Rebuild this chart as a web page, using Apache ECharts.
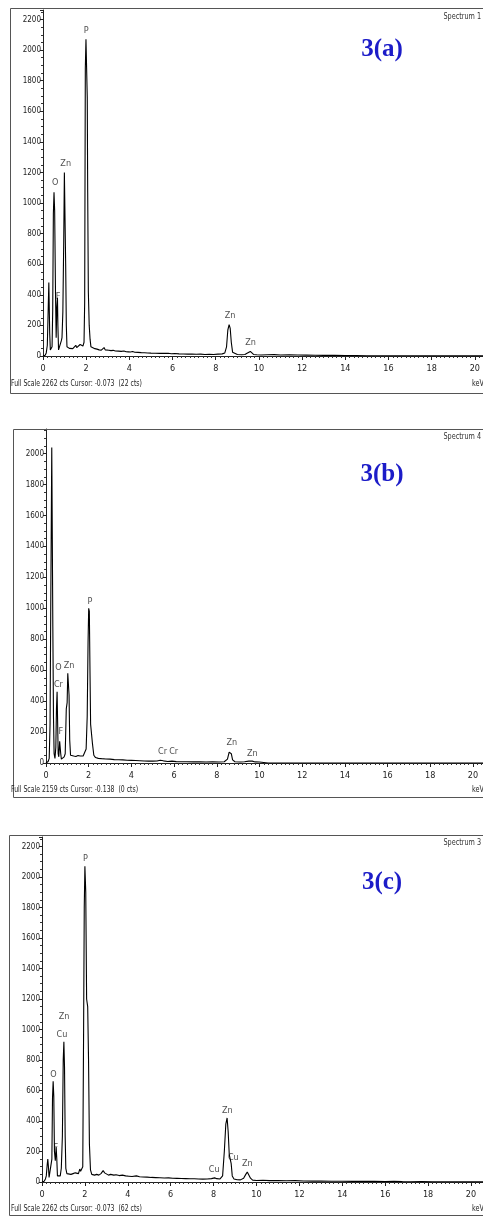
<!DOCTYPE html>
<html>
<head>
<meta charset="utf-8">
<script src="https://cdn.jsdelivr.net/npm/echarts@6/dist/echarts.min.js"></script>
<style>
html, body { margin: 0; padding: 0; background: #fff; }
#chart { width: 483px; height: 1216px; }
</style>
</head>
<body>
<div id="chart"></div>
<script>
// spectrum 1 -> 3(a), [keV, counts]
let specA = [
	[0, 0], [0.1, 5], [0.15, 20], [0.2, 70], [0.24, 300], [0.27, 480], [0.29, 470], [0.31, 150], [0.34, 40],
	[0.38, 30], [0.42, 60], [0.45, 300], [0.48, 930], [0.51, 1070], [0.54, 950], [0.56, 960], [0.58, 400],
	[0.61, 120], [0.64, 320], [0.67, 380], [0.69, 200], [0.72, 40], [0.76, 30], [0.8, 40], [0.85, 100],
	[0.88, 120], [0.92, 290], [0.96, 750], [0.99, 1200], [1.02, 1190], [1.05, 600], [1.08, 200], [1.11, 60],
	[1.15, 55], [1.22, 50], [1.3, 55], [1.38, 48], [1.45, 52], [1.52, 70], [1.56, 55], [1.6, 65], [1.65, 60],
	[1.72, 75], [1.78, 62], [1.85, 65], [1.9, 90], [1.93, 350], [1.96, 1880], [1.99, 2070], [2.02, 2060],
	[2.05, 1690], [2.07, 1070], [2.1, 420], [2.14, 200], [2.18, 110], [2.22, 60], [2.3, 50], [2.4, 48],
	[2.5, 45], [2.6, 40], [2.7, 38], [2.78, 45], [2.83, 55], [2.88, 40], [2.95, 42], [3.05, 38], [3.15, 35],
	[3.25, 37], [3.35, 33], [3.5, 32], [3.62, 30], [3.75, 33], [3.85, 28], [3.95, 27], [4.05, 26], [4.15, 29],
	[4.25, 25], [4.4, 24], [4.55, 22], [4.7, 21], [4.85, 20], [5, 19], [5.2, 18], [5.4, 17], [5.6, 17],
	[5.8, 18], [5.95, 15], [6.1, 16], [6.3, 14], [6.5, 13], [6.7, 12], [6.9, 12], [7.1, 11], [7.3, 12],
	[7.5, 10], [7.7, 11], [7.9, 10], [8.1, 12], [8.3, 14], [8.42, 20], [8.5, 60], [8.56, 170], [8.62, 205],
	[8.67, 180], [8.72, 90], [8.78, 25], [8.85, 12], [9, 10], [9.2, 8], [9.35, 10], [9.45, 18], [9.53, 30],
	[9.6, 30], [9.67, 18], [9.75, 10], [9.9, 8], [10.1, 7], [10.4, 8], [10.7, 9], [11, 7], [11.4, 8],
	[11.8, 7], [12.2, 6], [12.6, 5], [13, 4], [13.5, 4], [14, 3], [14.5, 3], [15, 2], [16, 2], [17, 2],
	[18, 1], [19, 1], [20, 1], [20.4, 1]
];

// spectrum 4 -> 3(b)
let specB = [
	[0, 0], [0.1, 10], [0.15, 30], [0.19, 250], [0.22, 950], [0.25, 950], [0.27, 2040], [0.3, 2030],
	[0.32, 880], [0.35, 300], [0.38, 60], [0.42, 30], [0.46, 100], [0.49, 350], [0.52, 460], [0.54, 300],
	[0.57, 60], [0.6, 40], [0.64, 140], [0.67, 150], [0.69, 60], [0.72, 25], [0.78, 30], [0.85, 40],
	[0.9, 60], [0.95, 350], [0.99, 390], [1.02, 580], [1.05, 590], [1.08, 440], [1.11, 150], [1.15, 50],
	[1.22, 40], [1.3, 45], [1.4, 42], [1.5, 48], [1.6, 45], [1.68, 55], [1.74, 45], [1.82, 55], [1.88, 90],
	[1.93, 300], [1.97, 780], [2, 1000], [2.03, 980], [2.06, 600], [2.09, 250], [2.13, 240], [2.18, 120],
	[2.24, 50], [2.32, 35], [2.45, 30], [2.6, 28], [2.8, 26], [3, 25], [3.2, 22], [3.4, 21], [3.6, 20],
	[3.8, 18], [4, 17], [4.2, 16], [4.4, 15], [4.6, 13], [4.8, 12], [5, 12], [5.2, 13], [5.35, 18],
	[5.42, 20], [5.5, 14], [5.7, 10], [5.9, 12], [5.97, 12], [6.1, 9], [6.3, 8], [6.6, 8], [6.9, 7],
	[7.2, 7], [7.5, 6], [7.8, 7], [8.1, 6], [8.35, 8], [8.5, 25], [8.58, 70], [8.63, 75], [8.68, 60],
	[8.74, 20], [8.85, 8], [9.1, 6], [9.3, 8], [9.5, 12], [9.58, 15], [9.66, 12], [9.8, 7], [10, 6],
	[10.2, 3], [10.4, 0], [20.47, 0]
];

// spectrum 3 -> 3(c)
let specC = [
	[0, 0], [0.1, 5], [0.16, 20], [0.2, 40], [0.24, 110], [0.27, 150], [0.3, 100], [0.33, 30], [0.38, 20],
	[0.42, 40], [0.46, 150], [0.49, 550], [0.52, 660], [0.55, 560], [0.58, 200], [0.62, 140], [0.66, 230],
	[0.69, 150], [0.72, 40], [0.78, 30], [0.85, 40], [0.9, 90], [0.95, 300], [0.99, 800], [1.02, 920],
	[1.05, 750], [1.08, 300], [1.11, 90], [1.16, 55], [1.25, 45], [1.35, 50], [1.45, 55], [1.55, 60],
	[1.62, 70], [1.7, 55], [1.76, 85], [1.8, 70], [1.85, 60], [1.9, 100], [1.94, 1000], [1.97, 1800],
	[2, 2070], [2.04, 1900], [2.08, 1200], [2.13, 1150], [2.17, 800], [2.21, 250], [2.26, 80], [2.32, 50],
	[2.4, 60], [2.45, 45], [2.55, 50], [2.65, 45], [2.75, 55], [2.85, 75], [2.92, 60], [3, 50], [3.1, 45],
	[3.2, 50], [3.28, 60], [3.35, 45], [3.45, 48], [3.6, 42], [3.75, 45], [3.9, 40], [4.05, 38], [4.2, 36],
	[4.4, 40], [4.55, 34], [4.7, 33], [4.9, 32], [5.1, 30], [5.3, 29], [5.5, 28], [5.7, 26], [5.9, 27],
	[6.1, 25], [6.3, 24], [6.5, 23], [6.7, 22], [6.9, 21], [7.1, 21], [7.3, 20], [7.5, 19], [7.7, 20],
	[7.9, 22], [8.05, 27], [8.15, 22], [8.3, 20], [8.42, 40], [8.5, 200], [8.57, 380], [8.63, 420],
	[8.68, 330], [8.73, 180], [8.78, 170], [8.82, 120], [8.87, 40], [8.95, 20], [9.1, 15], [9.25, 14],
	[9.4, 25], [9.5, 50], [9.57, 65], [9.64, 55], [9.72, 25], [9.82, 12], [10, 10], [10.3, 11], [10.6, 9],
	[11, 10], [11.4, 8], [11.8, 9], [12.2, 7], [12.6, 6], [13, 6], [13.5, 5], [14, 5], [14.5, 4], [15, 4],
	[15.5, 4], [16, 3], [16.4, 5], [16.8, 3], [17.2, 2], [17.7, 3], [18.2, 2], [19, 2], [20, 1], [20.56, 1]
];

// peak labels: [keV, counts, element]
let peaksA = [[2.0, 2130, "P"], [0.56, 1130, "O"], [1.05, 1255, "Zn"], [0.7, 385, "F"], [8.66, 261, "Zn"], [9.61, 90, "Zn"]];
let peaksB = [[2.06, 1042, "P"], [0.58, 617, "O"], [1.08, 628, "Zn"], [0.58, 505, "Cr"], [0.7, 203, "F"],
	[5.46, 73, "Cr"], [5.98, 73, "Cr"], [8.7, 131, "Zn"], [9.66, 58, "Zn"]];
let peaksC = [[2.02, 2120, "P"], [1.03, 1083, "Zn"], [0.93, 969, "Cu"], [0.53, 705, "O"], [0.65, 227, "F"],
	[8.64, 465, "Zn"], [8.92, 160, "Cu"], [9.57, 118, "Zn"], [8.03, 79, "Cu"]];

let panelNames = ["3(a)", "3(b)", "3(c)"];
let spectrumNames = ["Spectrum 1", "Spectrum 4", "Spectrum 3"];
let footers = [
	"Full Scale 2262 cts Cursor: -0.073  (22 cts)",
	"Full Scale 2159 cts Cursor: -0.138  (0 cts)",
	"Full Scale 2262 cts Cursor: -0.073  (62 cts)"
];
let fullScale = [2262, 2159, 2262];
let xMax = [20.37, 20.47, 20.56];

let narrow = "'Liberation Sans Narrow', 'DejaVu Sans Condensed', sans-serif";

let grids = [
	{left: 43, top: 10, right: 0, height: 346},
	{left: 46, top: 429, right: 0, height: 334},
	{left: 42, top: 837, right: 0, height: 345}
];
let frames = [
	{x: 10, y: 8, w: 490, h: 385},
	{x: 13, y: 429, w: 490, h: 368},
	{x: 9, y: 835, w: 490, h: 380}
];
let textY = [
	{name: 17, footer: 384, title: 50},
	{name: 437, footer: 790, title: 475},
	{name: 843, footer: 1209, title: 883}
];

let specs = [specA, specB, specC];
let peaks = [peaksA, peaksB, peaksC];

let chart = echarts.init(document.getElementById("chart"), null, {renderer: "canvas"});

let xAxes = [], yAxes = [], series = [], graphics = [];
specs.forEach((spec, i) => {
	xAxes.push({
		type: "value", gridIndex: i, min: 0, max: xMax[i], interval: 2,
		axisLine: {lineStyle: {color: "#222", width: 1}},
		axisTick: {length: 4, lineStyle: {color: "#222"}},
		minorTick: {show: true, splitNumber: 10, length: 2, lineStyle: {color: "#333"}},
		splitLine: {show: false},
		axisLabel: {color: "#222", fontSize: 9, fontFamily: narrow, margin: 8, showMaxLabel: false, formatter: v => String(v)}
	});
	yAxes.push({
		type: "value", gridIndex: i, min: 0, max: fullScale[i], interval: 200,
		axisLine: {show: true, lineStyle: {color: "#222", width: 1}},
		axisTick: {show: true, length: 3, lineStyle: {color: "#222"}},
		minorTick: {show: true, splitNumber: 4, length: 2, lineStyle: {color: "#333"}},
		splitLine: {show: false},
		axisLabel: {color: "#222", fontSize: 8, fontFamily: narrow, margin: 2, showMaxLabel: false, formatter: v => String(v)}
	});
	series.push({
		type: "line", xAxisIndex: i, yAxisIndex: i, data: spec, showSymbol: false, symbol: "none",
		lineStyle: {color: "#000", width: 1.1}, animation: false, silent: true
	});
	series.push({
		type: "scatter", xAxisIndex: i, yAxisIndex: i, symbolSize: 0, animation: false, silent: true,
		data: peaks[i].map(p => ({value: [p[0], p[1]], name: p[2]})),
		label: {show: true, position: "inside", formatter: "{b}", color: "#222", fontSize: 9, fontFamily: narrow}
	});
	let f = frames[i];
	graphics.push({
		type: "rect", silent: true, z: 100,
		shape: {x: f.x + 0.5, y: f.y + 0.5, width: f.w, height: f.h},
		style: {fill: null, stroke: "#555", lineWidth: 1}
	});
	graphics.push({
		type: "text", silent: true, z: 100, x: 481, y: textY[i].name, scaleX: 0.9,
		style: {text: spectrumNames[i], fill: "#333", font: "8px " + narrow, align: "right", verticalAlign: "middle"}
	});
	graphics.push({
		type: "text", silent: true, z: 100, x: 11, y: textY[i].footer, scaleX: 0.76,
		style: {text: footers[i], fill: "#222", font: "9px " + narrow, align: "left", verticalAlign: "middle"}
	});
	graphics.push({
		type: "text", silent: true, z: 100, x: 472, y: textY[i].footer, scaleX: 0.8,
		style: {text: "keV", fill: "#222", font: "9px " + narrow, align: "left", verticalAlign: "middle"}
	});
	graphics.push({
		type: "text", silent: true, z: 100, x: 382, y: textY[i].title,
		style: {text: panelNames[i], fill: "#1c1cc8", font: "bold 25px 'Liberation Serif', 'Times New Roman', serif", align: "center", verticalAlign: "middle"}
	});
});

chart.setOption({
	animation: false,
	grid: grids,
	xAxis: xAxes,
	yAxis: yAxes,
	series: series,
	graphic: graphics
});
</script>
</body>
</html>
